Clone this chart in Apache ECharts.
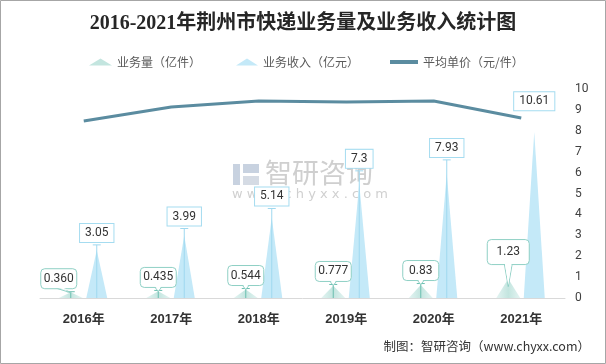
<!DOCTYPE html>
<html>
<head>
<meta charset="utf-8">
<script src="https://cdn.jsdelivr.net/npm/echarts@6/dist/echarts.min.js"></script>
<style>
html,body{margin:0;padding:0;background:#fff;}
#c{width:606px;height:364px;}
</style>
</head>
<body>
<div id="c"></div>
<script>
var years = ['2016年','2017年','2018年','2019年','2020年','2021年'];
var volumeLabels = ['0.360','0.435','0.544','0.777','0.83','1.23'];
var volume = [0.360, 0.435, 0.544, 0.777, 0.83, 1.23];
var revenueLabels = ['3.05','3.99','5.14','7.3','7.93','10.61'];
var revenue = [3.05, 3.99, 5.14, 7.3, 7.93, 10.61];
var avgPrice = [8.47, 9.14, 9.43, 9.38, 9.43, 8.61];
var rightTicks = [0, 1, 2, 3, 4, 5, 6, 7, 8, 9, 10];

var HALF = 13;
var triPath = 'path://M0,100 L50,0 L100,100 Z';
var volColor = {type:'linear',x:0,y:0,x2:1,y2:0,colorStops:[{offset:0,color:'rgba(200,232,228,0.5)'},{offset:0.5,color:'#c3e5df'},{offset:1,color:'rgba(200,232,228,0.5)'}]};
var revColor = '#c4e9f8';
var volBorder = '#8fd0c5';
var revBorder = '#a5dcf0';
var labelFont = '12px Roboto, "Noto Sans CJK SC", sans-serif';
var legendText = {fontSize:12, color:'#595959', fontFamily:'"Noto Sans CJK SC",sans-serif'};

function annot(kind) {
  return function (params, api) {
    var i = params.dataIndex;
    var v = api.value(1);
    var p = api.coord([i, v]);
    var base = api.coord([i, 0]);
    var dx = kind === 'vol' ? -HALF : HALF;
    var x = p[0] + dx;
    var border = kind === 'vol' ? volBorder : revBorder;
    var lineColor = kind === 'vol' ? '#6cbfb0' : '#9fd8ef';
    var text = kind === 'vol' ? volumeLabels[i] : revenueLabels[i];
    var last = i === params.dataInsideLength - 1;
    var children = [];
    if (!last) {
      children.push({type:'line', shape:{x1:x, y1:p[1], x2:x, y2:base[1]}, style:{stroke:lineColor, lineWidth:1}});
      children.push({type:'line', shape:{x1:x-4, y1:p[1], x2:x+4, y2:p[1]}, style:{stroke:lineColor, lineWidth:1}});
    }
    if (kind === 'vol') {
      var bx = x + (i === 0 ? -12 : 0);
      var bh = last ? 25 : 20;
      var by = p[1] - (last ? 12 : 3);
      var bw = last ? 42 : 36;
      var tipX = x, tipY = p[1] + (last ? 10 : 1);
      children.push({type:'polygon', shape:{points:[[bx-4, by-1],[tipX, tipY],[bx+4, by-1]]}, style:{fill:'#fff', stroke:border, lineWidth:1}, z2:5});
      children.push({type:'rect', shape:{x:bx-bw/2, y:by-bh, width:bw, height:bh, r:4}, style:{fill:'#fff', stroke:border, lineWidth:1}, z2:6});
      children.push({type:'polygon', shape:{points:[[bx-3.5, by-1.5],[tipX, tipY-1.5],[bx+3.5, by-1.5]]}, style:{fill:'#fff'}, z2:7});
      children.push({type:'text', x:bx, y:by-bh/2, style:{text:text, font:labelFont, fill:'#333', align:'center', verticalAlign:'middle'}, z2:8});
    } else {
      children.push({type:'text', x:x, y:p[1]-3, style:{text:text, font:labelFont, fill:'#333', align:'center', verticalAlign:'bottom', backgroundColor:'#fff', borderColor:border, borderWidth:1, padding:[3,5,3,5]}, z2:8});
    }
    return {type:'group', children:children};
  };
}

var chart = echarts.init(document.getElementById('c'), null, {renderer:'canvas'});
chart.setOption({
  backgroundColor:'#fff',
  animation:false,
  title:{
    text:'2016-2021年荆州市快递业务量及业务收入统计图',
    left:'center', top:9,
    textStyle:{fontSize:20, fontWeight:'bold', color:'#262626', fontFamily:'"Liberation Serif","Noto Sans CJK SC",serif'}
  },
  legend:[
    {top:51, left:84, itemWidth:23, itemHeight:7, textStyle:legendText,
     data:[{name:'业务量（亿件）', icon:'path://M0,7 L11.5,0 L23,7 Z', itemStyle:{color:'#c3e5df'}}]},
    {top:51, left:231, itemWidth:22, itemHeight:7, textStyle:legendText,
     data:[{name:'业务收入（亿元）', icon:'path://M0,7 L11,0 L22,7 Z', itemStyle:{color:revColor}}]},
    {top:51, left:385, itemWidth:28, itemHeight:4, textStyle:legendText,
     data:[{name:'平均单价（元/件）', icon:'rect', itemStyle:{color:'#5b8ca0'}}]}
  ],
  graphic:[
    {type:'rect', shape:{x:0.5,y:0.5,width:605,height:363}, style:{fill:'none', stroke:'#a6a6a6', lineWidth:1}, z:100},
    {type:'rect', left:233, top:164, shape:{width:7,height:21}, style:{fill:'#c8d2e0'}, z:0},
    {type:'rect', left:243, top:164, shape:{width:16,height:9}, style:{fill:'#c8d2e0'}, z:0},
    {type:'rect', left:243, top:176, shape:{width:16,height:9}, style:{fill:'#d5dbe4'}, z:0},
    {type:'text', left:265, top:159, style:{text:'智研咨询', font:'27px "Noto Sans CJK SC", sans-serif', fill:'#cfcfcf'}, z:0},
    {type:'text', left:232, top:188, style:{text:'w w w . c h y x x . c o m', font:'13px "DejaVu Sans", sans-serif', fill:'#d0d0d0'}, z:0},
    {type:'text', right:16, top:340, style:{text:'制图：智研咨询（www.chyxx.com）', font:'12.5px "Noto Sans CJK SC", sans-serif', fill:'#333'}, z:100}
  ],
  grid:{left:40, right:41, top:89, bottom:66},
  xAxis:{
    type:'category', data:years,
    axisLine:{lineStyle:{color:'#d9d9d9', width:1}},
    axisTick:{show:false},
    axisLabel:{margin:15, fontSize:13, fontWeight:'bold', color:'#333', fontFamily:'"Liberation Sans","Noto Sans CJK SC",sans-serif'}
  },
  yAxis:[
    {type:'value', min:0, max:12, show:false, splitLine:{show:false}},
    {type:'value', min:0, max:10, interval:1, position:'right',
     axisLine:{show:false}, axisTick:{show:false}, splitLine:{show:false},
     axisLabel:{margin:10, fontSize:12, color:'#404040', fontFamily:'Roboto, sans-serif'}}
  ],
  series:[
    {name:'业务量（亿件）', type:'pictorialBar', yAxisIndex:0, barWidth:2*HALF, barGap:'0%',
     symbol:triPath, symbolSize:[24,'90%'], symbolPosition:'start',
     itemStyle:{color:volColor}, data:volume, z:2},
    {name:'业务收入（亿元）', type:'pictorialBar', yAxisIndex:0, barWidth:2*HALF, barGap:'0%',
     symbol:triPath, symbolSize:[21,'90%'], symbolPosition:'start',
     itemStyle:{color:revColor}, data:revenue, z:2},
    {name:'平均单价（元/件）', type:'line', yAxisIndex:1, data:avgPrice, symbol:'none', showSymbol:false,
     lineStyle:{color:'#5b8ca0', width:3}, itemStyle:{color:'#5b8ca0'}, z:3},
    {type:'custom', yAxisIndex:0, renderItem:annot('vol'), data:volume.map(function(v,i){return [i,v];}), z:5, silent:true},
    {type:'custom', yAxisIndex:0, renderItem:annot('rev'), data:revenue.map(function(v,i){return [i,v];}), z:5, silent:true}
  ]
});
</script>
</body>
</html>
